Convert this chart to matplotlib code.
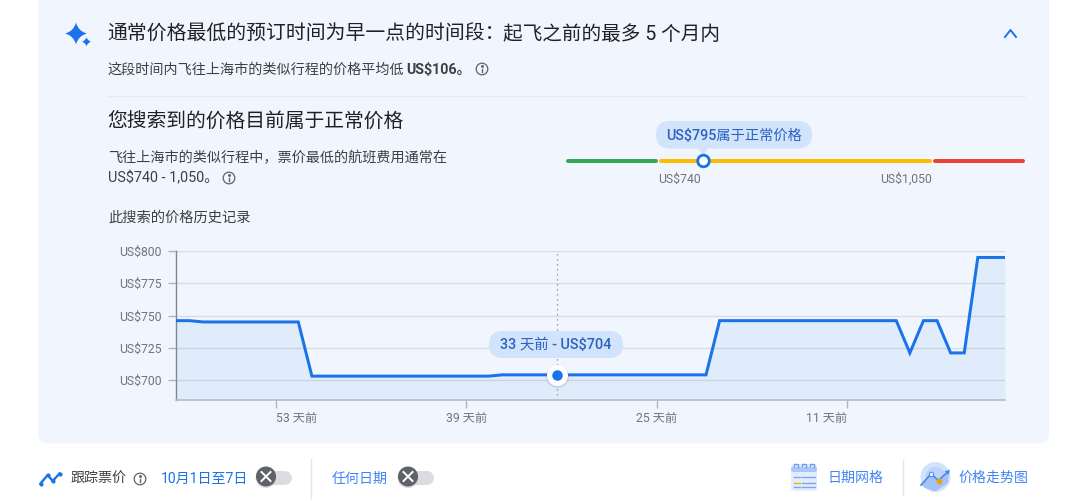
import numpy as np
import matplotlib
matplotlib.use("Agg")
import matplotlib.pyplot as plt
from matplotlib.patches import FancyBboxPatch, Circle, PathPatch, Polygon
from matplotlib.path import Path

plt.rcParams['font.family'] = ['Roboto', 'Noto Sans CJK SC', 'DejaVu Sans']

# price per day, oldest first (61 days ago -> today)
prices = [746, 746, 745, 745, 745, 745, 745, 745, 745, 745,
          703, 703, 703, 703, 703, 703, 703, 703, 703, 703,
          703, 703, 703, 703, 704, 704, 704, 704, 704, 704,
          704, 704, 704, 704, 704, 704, 704, 704, 704, 704,
          746, 746, 746, 746, 746, 746, 746, 746, 746, 746,
          746, 746, 746, 746, 721, 746, 746, 721, 721, 795,
          795, 795]
y_ticks = [700, 725, 750, 775, 800]
y_tick_labels = ['US$700', 'US$725', 'US$750', 'US$775', 'US$800']
x_ticks = [53, 39, 25, 11]
x_tick_labels = ['53 天前', '39 天前', '25 天前', '11 天前']
x_tick_align = ['left', 'center', 'center', 'right']
hover_day = 33
hover_price = 704
range_low = 'US$740'
range_high = 'US$1,050'

BG = '#f1f6fe'
BLUE = '#1a73e8'
DARK = '#202124'
GREY = '#3c4043'
LABEL = '#70757a'
PILL = '#d2e3fc'
PILL_TEXT = '#2a62c0'
LINK = '#4285f4'

fig = plt.figure(figsize=(10.8, 5.01), dpi=100, facecolor='white')

# page layer in pixel coordinates
ui = fig.add_axes([0, 0, 1, 1], zorder=0)
ui.set_xlim(0, 1080)
ui.set_ylim(501, 0)
ui.axis('off')


def px(n):
    return n * 0.72


def label(x, y, s, size=14, color=GREY, ha='left', weight='normal'):
    ui.text(x, y, s, fontsize=px(size), color=color, ha=ha, va='center', weight=weight)


def rounded(x0, y0, x1, y1, r, color, ax=ui, z=1):
    p = FancyBboxPatch((x0 + r, y0 + r), x1 - x0 - 2 * r, y1 - y0 - 2 * r,
                       boxstyle=f'round,pad={r},rounding_size={r}',
                       fc=color, ec='none', transform=ui.transData, zorder=z, clip_on=False)
    ax.add_patch(p)


def info(x, y):
    ui.add_patch(Circle((x, y), 5.8, fc='none', ec='#5f6368', lw=0.9, zorder=3))
    ui.plot([x, x], [y - 0.5, y + 3], color='#5f6368', lw=1.0, zorder=3)
    ui.plot([x], [y - 2.6], 'o', ms=1.1, color='#5f6368', zorder=3)


def star(cx, cy, r):
    k = r * 0.2
    verts = [(cx, cy - r), (cx + k, cy - k), (cx + r, cy), (cx + k, cy + k), (cx, cy + r),
             (cx - k, cy + k), (cx - r, cy), (cx - k, cy - k), (cx, cy - r)]
    codes = [Path.MOVETO] + [Path.CURVE3] * 8
    ui.add_patch(PathPatch(Path(verts, codes), fc=BLUE, ec='none', zorder=3))


def toggle(cx, cy, x_end):
    ui.plot([cx, x_end], [cy + 1, cy + 1], color='#dadce0', lw=px(14), solid_capstyle='round', zorder=2)
    ui.add_patch(Circle((cx, cy + 1), 10.5, fc='#c4c7cc', ec='none', alpha=0.6, zorder=2.5))
    ui.add_patch(Circle((cx, cy), 10, fc='#5f6368', ec='none', zorder=3))
    d = 4.5
    ui.plot([cx - d, cx + d], [cy - d, cy + d], color='white', lw=1.4, zorder=4)
    ui.plot([cx - d, cx + d], [cy + d, cy - d], color='white', lw=1.4, zorder=4)


# panel, runs off the top of the picture
rounded(38, -30, 1049, 443.5, 10, BG, z=0.5)

# header
star(76, 33.5, 11)
star(86.5, 41.7, 4.6)
label(107.5, 34, '通常价格最低的预订时间为早一点的时间段：', 19.85, DARK)
label(503, 34, '起飞之前的最多 5 个月内', 19.6, DARK)
ui.plot([1005, 1010.5, 1016], [37, 30, 37], color=BLUE, lw=1.4, zorder=3)
label(108, 69.5, '这段时间内飞往上海市的类似行程的价格平均低', 14.1, GREY)
label(406.5, 69.5, 'US$106。', 14.2, GREY, weight='bold')
info(482, 69)
ui.plot([108, 1025], [95.5, 95.5], color='#e8eaed', lw=1)

label(107.5, 122, '您搜索到的价格目前属于正常价格', 19.8, DARK)
label(108, 158, '飞往上海市的类似行程中，票价最低的航班费用通常在', 14.1, GREY)
label(108, 178.5, 'US$740 - 1,050。', 14.4, GREY)
info(229, 178)
label(108, 218, '此搜索的价格历史记录', 14.2, GREY)

# price range bar
ui.plot([568, 656], [160.5, 160.5], color='#34a853', lw=px(4), solid_capstyle='round', zorder=2)
ui.plot([661, 930], [160.5, 160.5], color='#fbbc04', lw=px(4), solid_capstyle='round', zorder=2)
ui.plot([935, 1023], [160.5, 160.5], color='#ea4335', lw=px(4), solid_capstyle='round', zorder=2)
ui.add_patch(Circle((703.5, 161), 5.8, fc='white', ec=BLUE, lw=2, zorder=4))
rounded(656, 121, 812, 148.5, 13.7, PILL, z=2)
ui.add_patch(Polygon([[698, 148], [708, 148], [703.5, 156]], fc=PILL, ec='none', zorder=2))
ui.text(734, 135.5, 'US$795属于正常价格', fontsize=px(14.2), color=PILL_TEXT, ha='center', va='center',
        weight='medium', zorder=3)
label(658, 179, range_low, 12.3, LABEL)
label(932, 179, range_high, 12.3, LABEL, ha='right')

# price history chart
ax = fig.add_axes([176 / 1080, (501 - 400) / 501, 829 / 1080, 149 / 501], zorder=1)
ax.patch.set_alpha(0)
days_ago = np.arange(len(prices) - 1, -1, -1)
ax.set_xlim(days_ago[0], days_ago[-1])
ax.set_ylim(684.5, 800)
ax.set_yticks(y_ticks, y_tick_labels)
# the tick marks sit a bit to the left of the day they name
ax.set_xticks([d + 0.63 for d in x_ticks], x_tick_labels)
for t, align in zip(ax.get_xticklabels(), x_tick_align):
    t.set_ha(align)
ax.grid(axis='y', color='#dadce0', lw=1)
ax.set_axisbelow(True)
ax.tick_params(axis='y', length=6, width=1, color='#b0b5bd', labelcolor=LABEL, labelsize=px(12.2), pad=4.4)
ax.tick_params(axis='x', length=6, width=1, color='#b0b5bd', labelcolor=LABEL, labelsize=px(12.2), pad=3)
for s in ['top', 'right']:
    ax.spines[s].set_visible(False)
ax.spines['left'].set_color('#80868b')
ax.spines['bottom'].set_color('#b8bcc4')
ax.spines['left'].set_linewidth(1)
ax.spines['bottom'].set_linewidth(1.2)

ax.fill_between(days_ago, prices, 684.5, color=BLUE, alpha=0.08, lw=0, zorder=2)
ax.plot(days_ago, prices, color=BLUE, lw=px(3), solid_joinstyle='miter', zorder=3)
ax.axvline(hover_day, color='#80868b', lw=0.9, ls=(0, (1, 3)), zorder=2.5)
ax.plot([hover_day], [hover_price - 1], 'o', ms=px(23), color='#5f6368', alpha=0.18, mew=0, zorder=4, clip_on=False)
ax.plot([hover_day], [hover_price], 'o', ms=px(21), color='white', mew=0, zorder=5, clip_on=False)
ax.plot([hover_day], [hover_price], 'o', ms=px(10.5), color=BLUE, mew=0, zorder=6, clip_on=False)
rounded(489, 331, 623, 358, 13.5, PILL, ax=ax, z=7)
ax.text(556, 344.5, f'{hover_day} 天前 - US${hover_price}', transform=ui.transData, fontsize=px(14.4),
        color=PILL_TEXT, ha='center', va='center', weight='medium', zorder=8)

# bottom row
ui.plot([40.5, 47.7, 52.7, 59.5], [483.5, 475, 481, 473.5], color=BLUE, lw=1.7, marker='o', ms=2, zorder=3)
label(71, 478.5, '跟踪票价', 14, GREY)
info(140, 479)
label(161, 478.5, '10月1日至7日', 14, BLUE)
toggle(266, 476.5, 285)
ui.plot([311, 311], [459, 498], color='#e3e5e8', lw=1)
label(332, 478.5, '任何日期', 14, LINK)
toggle(408, 476.5, 427)

# date grid icon
rounded(791, 464, 817, 491, 3, '#e3edfd', z=2)
rounded(791, 467, 817, 472, 2, '#a9c7f8', z=2.5)
for cx in [796, 804, 812]:
    ui.plot([cx - 2, cx - 2, cx + 2, cx + 2], [466, 463.5, 463.5, 467], color='#6f9ff0', lw=1, zorder=3)
for row, cy in enumerate([477, 482.5, 486.5]):
    for cx in [797, 804.5, 812]:
        col = '#f4b400' if row == 1 and cx == 797 else '#7ba6ec'
        ui.plot([cx - 3, cx + 3], [cy, cy], color=col, lw=1, zorder=3)
label(827.5, 478, '日期网格', 14, LINK)
ui.plot([903, 903], [460, 495], color='#e3e5e8', lw=1)

# price trend icon
ui.add_patch(Circle((935.5, 477), 15, fc='#d2e3fc', ec='none', zorder=2))
ui.add_patch(Circle((935.5, 477), 10, fc='#bcd4fa', ec='none', zorder=2.1))
ui.add_patch(Polygon([[921, 485], [931, 474], [938.5, 480.5], [949, 472], [948, 483], [935.5, 491.5], [925, 488]],
                     fc='#a3c3f7', ec='none', zorder=2.2))
ui.plot([921, 931, 938.5, 948], [485, 474, 480.5, 471.5], color='#4a86e8', lw=1.2, zorder=3)
ui.add_patch(Polygon([[950, 470], [944.5, 471], [948.5, 475]], fc='#4a86e8', ec='none', zorder=3))
ui.plot([931], [474], 'o', ms=3.2, mfc='#e8f0fe', mec='#4a86e8', mew=0.7, zorder=4)
ui.plot([938.5], [480.5], 'o', ms=3.2, color='#f0a30a', zorder=4)
label(958.5, 477.5, '价格走势图', 14, LINK)

fig.savefig('out.png', dpi=100)
